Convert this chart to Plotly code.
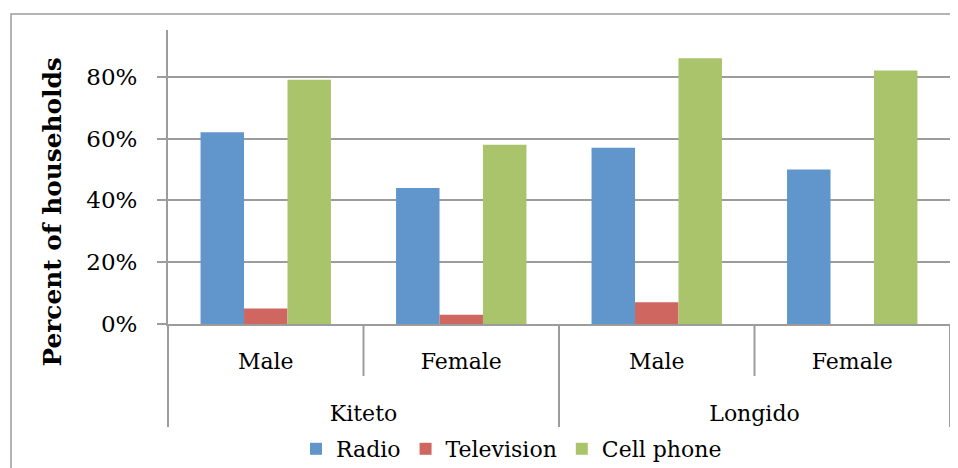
import plotly.graph_objects as go

districts = ["Kiteto", "Kiteto", "Longido", "Longido"]
genders = ["Male", "Female", "Male", "Female"]
radio = [0.62, 0.44, 0.57, 0.50]
television = [0.05, 0.03, 0.07, 0.00]
cell_phone = [0.79, 0.58, 0.86, 0.82]
y_ticks = [0, 0.2, 0.4, 0.6, 0.8]
y_tick_text = ["0%", "20%", "40%", "60%", "80%"]

FONT = "DejaVu Serif"
GRAY = "#9c9c9c"
OFF = 8  # browser default body margin
W, H = 958 - OFF, 468 - OFF
L, R, T, B = 168 - OFF, 8, 30 - OFF, 144
PW, PH = W - L - R, H - T - B

def px_x(x):
    return (x - OFF - L) / PW

def px_y(y):
    return (H - B - (y - OFF)) / PH

# spacing helpers so the two label rows sit like the reference
pad = "<span style='font-size:32px'>\u00a0</span>"
outer_labels = ["<br>" + d for d in districts]
inner_labels = [pad + g + pad for g in genders]

fig = go.Figure()
for name, vals, color in [("Radio", radio, "#6096cb"),
                          ("Television", television, "#cf665f"),
                          ("Cell phone", cell_phone, "#aac46c")]:
    fig.add_trace(go.Bar(x=[outer_labels, inner_labels], y=vals, name=name,
                         marker=dict(color=color, line=dict(width=0))))

shapes = []
# inner category separators (first label row only)
for xp in [0.25, 0.75]:
    shapes.append(dict(type="line", xref="paper", yref="paper",
                       x0=xp, x1=xp, y0=0, y1=px_y(376),
                       line=dict(color=GRAY, width=2)))
# outer chart border (cropped)
shapes.append(dict(type="rect", xref="paper", yref="paper",
                   x0=px_x(11), x1=px_x(1100), y0=px_y(14), y1=px_y(700),
                   line=dict(color=GRAY, width=1.5), layer="below"))

fig.update_layout(
    width=W, height=H,
    margin=dict(l=L, r=R, t=T, b=B, pad=0, autoexpand=False),
    paper_bgcolor="white", plot_bgcolor="white",
    barmode="group", bargap=0.333, bargroupgap=0,
    font=dict(family=FONT, size=22, color="black"),
    showlegend=True,
    legend=dict(orientation="h", x=px_x(296), xanchor="left",
                y=px_y(449), yanchor="middle",
                font=dict(family=FONT, size=22), itemclick=False,
                traceorder="normal", bgcolor="rgba(0,0,0,0)"),
    shapes=shapes,
    annotations=[dict(text="<b>Percent of households</b>", textangle=-90,
                      xref="paper", yref="paper", x=px_x(52), y=px_y(212.5),
                      xanchor="center", yanchor="middle", showarrow=False,
                      font=dict(family=FONT, size=24.8, color="black"))],
)
fig.update_yaxes(range=[0, 0.951], tickvals=y_ticks, ticktext=y_tick_text,
                 showgrid=True, gridcolor=GRAY, gridwidth=2,
                 showline=True, linecolor=GRAY, linewidth=2,
                 ticks="outside", ticklen=9, tickcolor=GRAY, tickwidth=2,
                 ticklabelstandoff=15, zeroline=False, automargin=False,
                 tickfont=dict(family=FONT, size=23))
fig.update_xaxes(type="multicategory", showline=True, linecolor=GRAY, linewidth=2,
                 showdividers=True, dividercolor=GRAY, dividerwidth=2,
                 ticks="", ticklabelstandoff=17,
                 showgrid=False, tickangle=0, automargin=False,
                 tickfont=dict(family=FONT, size=22))

fig.write_html("out.html")
